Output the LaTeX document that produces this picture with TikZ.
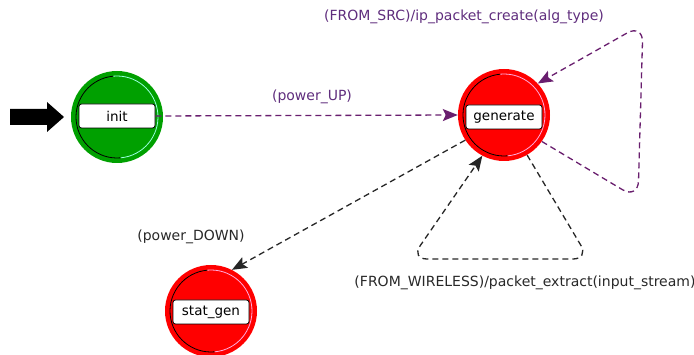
\documentclass[tikz,border=0pt]{standalone}
\usepackage{fontspec}
\setmainfont{DejaVu Sans}
\usetikzlibrary{arrows.meta}
\definecolor{stRed}{RGB}{255,0,0}
\definecolor{stGreen}{RGB}{0,160,0}
\definecolor{edgePurple}{RGB}{105,30,110}
\definecolor{txtPurple}{RGB}{95,45,125}
\definecolor{txtDark}{RGB}{40,40,40}
\definecolor{hiRed}{RGB}{255,170,220}
\definecolor{hiGreen}{RGB}{150,255,220}
\tikzset{
  x=1pt, y=-1pt,
  every node/.style={font=\fontsize{14}{16}\selectfont},
  statecirc/.style={circle, minimum size=92pt, inner sep=0pt},
  statebox/.style={draw=black, line width=0.8pt, fill=white, rounded corners=2.5pt,
    minimum width=76pt, minimum height=24pt, inner sep=0pt, text=black,
    font=\fontsize{13.5}{15}\selectfont},
  trans/.style={dashed, dash pattern=on 6pt off 4pt, line width=1.3pt,
    -{Stealth[length=15pt,width=12pt,inset=3pt]}},
  ptrans/.style={trans, draw=edgePurple},
  btrans/.style={trans, draw=black!85},
  plabel/.style={text=txtPurple},
  blabel/.style={text=txtDark},
  rimdark/.style={draw=black, line width=0.8pt},
}
\begin{document}
\begin{tikzpicture}
\useasboundingbox (0,0) rectangle (694,355);
% states
\node[statecirc, fill=stGreen] (init) at (117,117) {};
\draw[rimdark] (init.center) ++(95:41pt) arc[start angle=95, end angle=275, radius=41pt];
\draw[rimdark, draw=hiGreen] (init.center) ++(-85:41pt) arc[start angle=-85, end angle=95, radius=41pt];
\node[statebox] (initbox) at (117,116) {init};

\node[statecirc, fill=stRed] (gen) at (504,115) {};
\draw[rimdark] (gen.center) ++(95:41pt) arc[start angle=95, end angle=275, radius=41pt];
\draw[rimdark, draw=hiRed] (gen.center) ++(-85:41pt) arc[start angle=-85, end angle=95, radius=41pt];
\node[statebox] (genbox) at (504,117) {generate};

\node[statecirc, fill=stRed] (stat) at (211,311) {};
\draw[rimdark] (stat.center) ++(95:41pt) arc[start angle=95, end angle=275, radius=41pt];
\draw[rimdark, draw=hiRed] (stat.center) ++(-85:41pt) arc[start angle=-85, end angle=95, radius=41pt];
\node[statebox] (statbox) at (211,312) {stat\_gen};

% initial arrow
\coordinate (inittip) at (64,117);
\fill[black] (10,109) -- (47,109) -- (47,102) -- (inittip) -- (47,132) -- (47,125) -- (10,125) -- cycle;

% transitions
\draw[ptrans] (initbox.east) -- (gen.west);
\node[plabel] (lup) at (312,97) {(power\_UP)};

\coordinate (srcA) at (638,199);
\coordinate (srcB) at (643,24);
\draw[ptrans, rounded corners=18pt] (gen.-35) -- (srcA) -- (srcB) -- (gen.43);
\node[plabel] (lsrc) at (464,17) {(FROM\_SRC)/ip\_packet\_create(alg\_type)};

\coordinate (wA) at (589,259);
\coordinate (wB) at (411,259);
\draw[btrans, rounded corners=16pt] (gen.-60) -- (wA) -- (wB) -- (gen.-118);
\node[blabel] (lw) at (525,283) {(FROM\_WIRELESS)/packet\_extract(input\_stream)};

\draw[btrans] (gen.213) -- (stat.63);
\node[blabel] (ldown) at (191,237) {(power\_DOWN)};
\end{tikzpicture}
\end{document}
